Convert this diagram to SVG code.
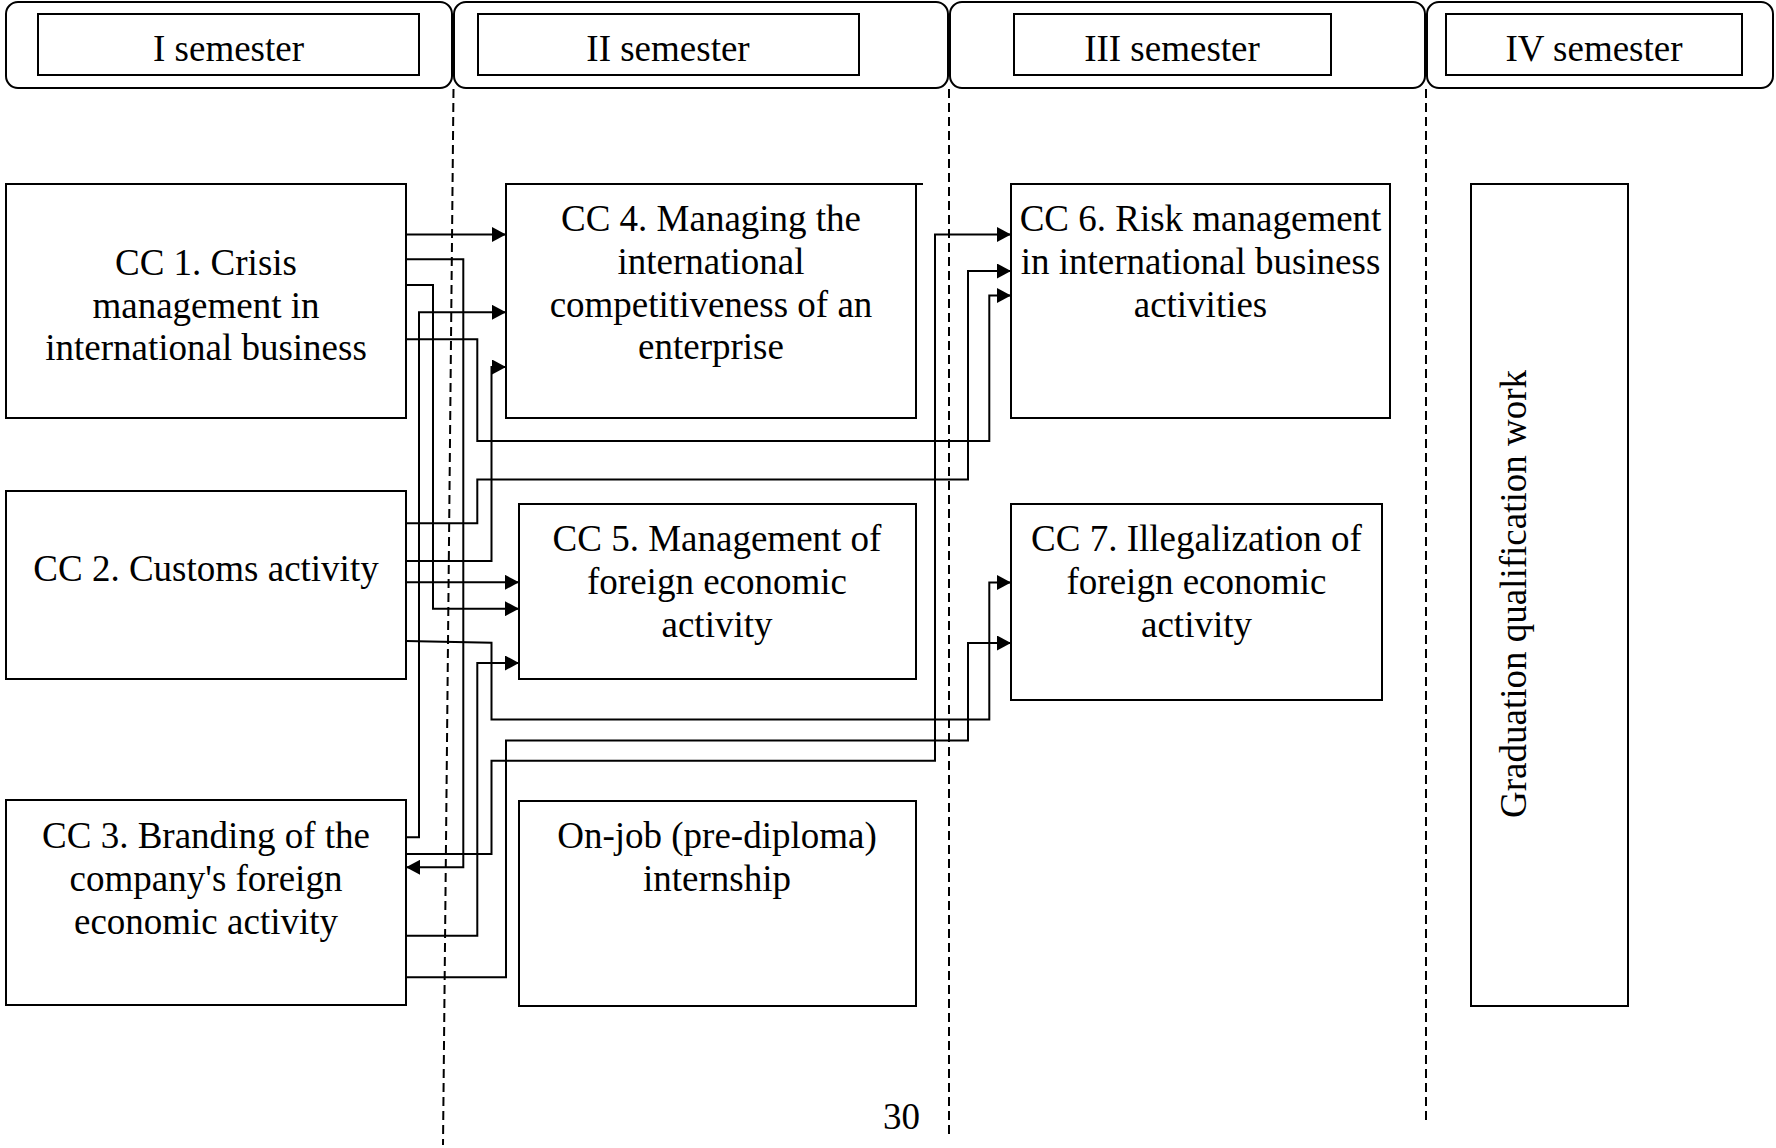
<svg xmlns="http://www.w3.org/2000/svg" width="1776" height="1148" viewBox="0 0 1776 1148">
<style>
.bx{fill:#fff;stroke:#000;stroke-width:2}
.hd{fill:#fff;stroke:#000;stroke-width:2}
.t{font-family:"Liberation Serif","Times New Roman",serif;font-size:37px;fill:#000;text-anchor:middle}
.cn{fill:none;stroke:#000;stroke-width:2;marker-end:url(#ah)}
.dl{fill:none;stroke:#000;stroke-width:2;stroke-dasharray:9 5}
</style>
<defs>
<marker id="ah" markerUnits="userSpaceOnUse" markerWidth="15" markerHeight="15" refX="14" refY="7.5" orient="auto"><path d="M0,0 L14,7.5 L0,15 z" fill="#000"/></marker>
</defs>
<rect width="1776" height="1148" fill="#fff"/>
<g id="dividers">
<line class="dl" x1="453.5" y1="89" x2="443" y2="1145"/>
<line class="dl" x1="949" y1="89" x2="949" y2="1134"/>
<line class="dl" x1="1426" y1="89" x2="1426" y2="1121"/>
</g>
<g id="sem1"><rect class="hd" x="6" y="2" width="446" height="86" rx="12"/><rect class="bx" x="38" y="14" width="381" height="61"/><text class="t" x="228.5" y="61">I semester</text></g>
<g id="sem2"><rect class="hd" x="454" y="2" width="494" height="86" rx="12"/><rect class="bx" x="478" y="14" width="381" height="61"/><text class="t" x="668" y="61">II semester</text></g>
<g id="sem3"><rect class="hd" x="950" y="2" width="475" height="86" rx="12"/><rect class="bx" x="1014" y="14" width="317" height="61"/><text class="t" x="1172" y="61">III semester</text></g>
<g id="sem4"><rect class="hd" x="1427" y="2" width="346" height="86" rx="12"/><rect class="bx" x="1446" y="14" width="296" height="61"/><text class="t" x="1594" y="61">IV semester</text></g>
<g id="cc1"><rect class="bx" x="6" y="184" width="400" height="234"/><text class="t" x="206" y="275">CC 1. Crisis</text><text class="t" x="206" y="318">management in</text><text class="t" x="206" y="360">international business</text></g>
<g id="cc2"><rect class="bx" x="6" y="491" width="400" height="188"/><text class="t" x="206" y="581">CC 2. Customs activity</text></g>
<g id="cc3"><rect class="bx" x="6" y="800" width="400" height="205"/><text class="t" x="206" y="848">CC 3. Branding of the</text><text class="t" x="206" y="891">company's foreign</text><text class="t" x="206" y="934">economic activity</text></g>
<g id="cc4"><rect class="bx" x="506" y="184" width="410" height="234"/><path d="M506,184 H923" stroke="#000" stroke-width="2" fill="none"/><text class="t" x="711" y="231">CC 4. Managing the</text><text class="t" x="711" y="274">international</text><text class="t" x="711" y="317">competitiveness of an</text><text class="t" x="711" y="359">enterprise</text></g>
<g id="cc5"><rect class="bx" x="519" y="504" width="397" height="175"/><text class="t" x="717" y="551">CC 5. Management of</text><text class="t" x="717" y="594">foreign economic</text><text class="t" x="717" y="637">activity</text></g>
<g id="internship"><rect class="bx" x="519" y="801" width="397" height="205"/><text class="t" x="717" y="848">On-job (pre-diploma)</text><text class="t" x="717" y="891">internship</text></g>
<g id="cc6"><rect class="bx" x="1011" y="184" width="379" height="234"/><text class="t" x="1200.5" y="231">CC 6. Risk management</text><text class="t" x="1200.5" y="274">in international business</text><text class="t" x="1200.5" y="317">activities</text></g>
<g id="cc7"><rect class="bx" x="1011" y="504" width="371" height="196"/><text class="t" x="1196.5" y="551">CC 7. Illegalization of</text><text class="t" x="1196.5" y="594">foreign economic</text><text class="t" x="1196.5" y="637">activity</text></g>
<g id="gqw"><rect class="bx" x="1471" y="184" width="157" height="822"/><text class="t" transform="translate(1526,594) rotate(-90)">Graduation qualification work</text></g>
<g id="connectors">
<path class="cn" d="M406,234.5 H506"/>
<path class="cn" d="M406,259.3 H463.3 V867.3 H406"/>
<path class="cn" d="M406,285 H433 V608.7 H519"/>
<path class="cn" d="M406,837.3 H419 V312.3 H506"/>
<path class="cn" d="M406,339.3 H477.3 V441 H989.3 V295.5 H1011"/>
<path class="cn" d="M406,523.3 H477.3 V479.5 H968 V271 H1011"/>
<path class="cn" d="M406,561 H491.5 V367 H506"/>
<path class="cn" d="M406,582.3 H519"/>
<path class="cn" d="M406,641 L491.5,642.7 V719.5 H989.3 V582.5 H1011"/>
<path class="cn" d="M406,935.7 H477.3 V663 H519"/>
<path class="cn" d="M406,977.3 H506 V740.5 H968 V643 H1011"/>
<path class="cn" d="M406,854 H491.5 V760.7 H935 V234.5 H1011"/>
</g>
<text class="t" x="901.5" y="1129">30</text>
</svg>
